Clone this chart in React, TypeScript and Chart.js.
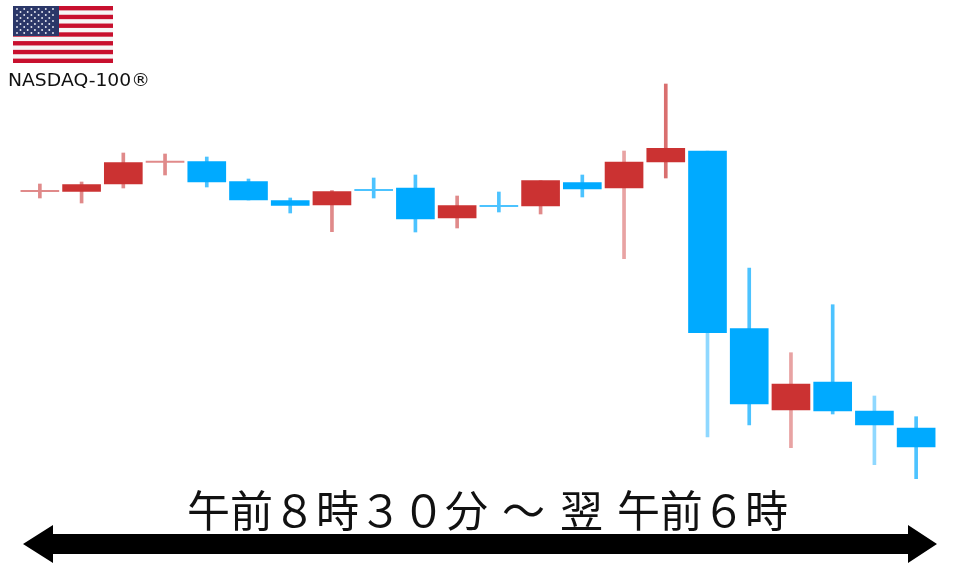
import React, { useEffect, useRef } from "react";
import { Chart, registerables } from "chart.js";

Chart.register(...registerables);

const SESSIONS = ["08:30","09:00","10:00","11:00","12:00","13:00","14:00","15:00","16:00","17:00","18:00","19:00","20:00","21:00","22:00","22:30","23:30","00:30","01:30","03:00","04:30","06:00"];
const OPEN = [376, 375.5, 383, 405.3, 405.5, 385.5, 366.5, 362, 377, 379, 349, 361, 361, 384.3, 379, 405, 416, 238.3, 157, 185, 156, 139];
const CLOSE = [376, 382.5, 404.5, 405.3, 385, 367, 361.5, 375.3, 377, 348, 361.3, 361, 386.3, 378, 405, 418.7, 234.3, 163, 183, 156, 142, 120];
const HIGH = [383, 385, 414, 413, 410, 388, 369, 376.5, 389, 392, 371, 375, 386.3, 392, 416, 483, 416, 299, 214.3, 262.3, 171, 150.3];
const LOW = [369, 364, 379, 392, 380, 367, 354, 335.3, 369, 335, 339, 355, 353, 370, 308.3, 389, 130, 142, 119.3, 153, 102.3, 88.3];
const TITLE_PARTS = ["午前８時３０分", "～", "翌", "午前６時"];
const INDEX_NAME = "NASDAQ-100®";

const RED = "#cb3232";
const BLUE = "#00aaff";
const RED_WICK = ["#e08a8a", "#d96f6f", "#e8a3a3"];
const BLUE_WICK = ["#4cc3ff", "#8fd8ff"];
const PALE = [14, 16, 18, 20];

function isDoji(i: number) {
  return Math.abs(OPEN[i] - CLOSE[i]) < 1;
}
function isRed(i: number) {
  return isDoji(i) ? i <= 5 : CLOSE[i] > OPEN[i];
}
function wickColor(i: number) {
  if (isRed(i)) return i === 15 ? RED_WICK[1] : PALE.includes(i) ? RED_WICK[2] : RED_WICK[0];
  return PALE.includes(i) ? BLUE_WICK[1] : BLUE_WICK[0];
}

function Flag() {
  const stripes = [];
  for (let i = 0; i < 13; i += 2) {
    stripes.push(<rect key={i} x={13} y={6 + (i * 57) / 13} width={100} height={57 / 13} fill="#c8102e" />);
  }
  const stars = [];
  for (let r = 0; r < 9; r++) {
    const n = r % 2 === 0 ? 6 : 5;
    for (let c = 0; c < n; c++) {
      const off = r % 2 === 0 ? 0 : 3.5;
      stars.push(<circle key={r + "-" + c} cx={17 + off + c * 7.2} cy={9 + r * 3} r={0.95} fill="#e8eaf2" />);
    }
  }
  return (
    <g>
      <rect x={13} y={6} width={100} height={57} fill="#f6f6f6" />
      {stripes}
      <rect x={13} y={6} width={46} height={30} fill="#2b3768" />
      {stars}
    </g>
  );
}

export default function App() {
  const ref = useRef<HTMLCanvasElement>(null);
  useEffect(() => {
    document.body.style.margin = "0";
    const chart = new Chart(ref.current!, {
      type: "bar",
      data: {
        labels: SESSIONS,
        datasets: [
          {
            label: "High-Low",
            data: SESSIONS.map((_, i) => [LOW[i], HIGH[i]]),
            backgroundColor: SESSIONS.map((_, i) => wickColor(i)),
            barThickness: 3,
            grouped: false,
            order: 2,
          },
          {
            label: "Open-Close",
            data: SESSIONS.map((_, i) => (isDoji(i) ? [OPEN[i] - 0.6, OPEN[i] + 0.6] : [OPEN[i], CLOSE[i]])),
            backgroundColor: SESSIONS.map((_, i) => {
              if (isDoji(i)) return wickColor(i);
              return isRed(i) ? RED : BLUE;
            }),
            barThickness: 38,
            grouped: false,
            order: 1,
          },
        ] as any,
      },
      options: {
        animation: false,
        responsive: false,
        layout: { padding: { left: 19, right: 23, top: 0, bottom: 0 } },
        plugins: { legend: { display: false }, tooltip: { enabled: false } },
        scales: {
          x: { display: false, offset: true, grid: { display: false } },
          y: { display: false, min: 0, max: 567, grid: { display: false } },
        },
      },
    });
    return () => chart.destroy();
  }, []);

  return (
    <div style={{ position: "fixed", left: 0, top: 0, width: 960, height: 567, background: "#fff", overflow: "hidden" }}>
      <canvas ref={ref} width={960} height={567} style={{ position: "absolute", left: 0, top: 0, width: 960, height: 567, filter: "blur(0.4px)" }} />
      <svg width={960} height={567} style={{ position: "absolute", left: 0, top: 0 }}>
        <Flag />
        <text x={8} y={86} fontFamily="'DejaVu Sans'" fontSize={17.5} fill="#111" textLength={142} lengthAdjust="spacingAndGlyphs">{INDEX_NAME}</text>
        <g fontFamily="'Noto Sans CJK JP'" fontSize={43} fill="#111">
          <text x={187} y={527} textLength={301}>{TITLE_PARTS[0]}</text>
          <text x={502} y={527}>{TITLE_PARTS[1]}</text>
          <text x={560} y={527}>{TITLE_PARTS[2]}</text>
          <text x={617} y={527} textLength={171}>{TITLE_PARTS[3]}</text>
        </g>
        <polygon points="23,544 53,525 53,534 908,534 908,525 937,544 908,563 908,554 53,554 53,563" fill="#000" />
      </svg>
    </div>
  );
}
